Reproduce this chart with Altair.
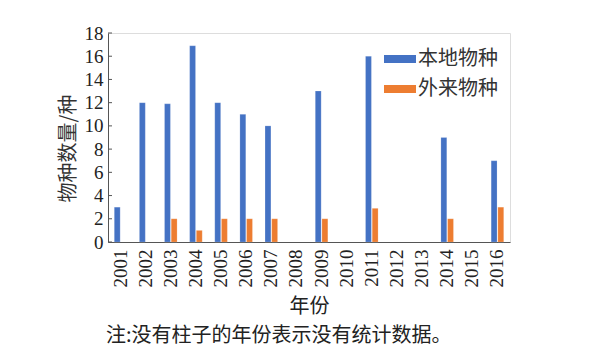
import altair as alt
import pandas as pd

years = [str(y) for y in range(2001, 2017)]
native = [3, 12, 11.9, 16.9, 12, 11, 10, None, 13, None, 16, None, None, 9, None, 7]
alien = [None, None, 2, 1, 2, 2, 2, None, 2, None, 2.9, None, None, 2, None, 3]
series = ["本地物种", "外来物种"]
colors = ["#4472c4", "#ed7d31"]
yticks = list(range(0, 19, 2))

rows = []
for y, n, a in zip(years, native, alien):
    if n is not None:
        rows.append({"年份": y, "类别": series[0], "值": n})
    if a is not None:
        rows.append({"年份": y, "类别": series[1], "值": a})
df = pd.DataFrame(rows)
tick_df = pd.DataFrame({"值": yticks})

cjk = "Noto Sans CJK SC"
num = "Liberation Serif"

x_enc = alt.X("年份:N", sort=years,
              scale=alt.Scale(domain=years, paddingInner=0.5, paddingOuter=0.25),
              axis=alt.Axis(title="年份", labelAngle=270, labelFont=num, labelFontSize=19,
                            labelColor="#222", labelPadding=7, ticks=False, labelOverlap=False,
                            domainColor="#555", titleFont=cjk, titleFontSize=20,
                            titleFontWeight="normal", titleColor="#222", titlePadding=9))
y_scale = alt.Scale(domain=[0, 18], nice=False)
y_axis = alt.Axis(title="物种数量/种", values=yticks, grid=False, ticks=False,
                  labelOverlap=False, labelFlush=False,
                  labelFont=num, labelFontSize=19, labelColor="#222", labelPadding=5,
                  domainColor="#555", titleFont=cjk, titleFontSize=20,
                  titleFontWeight="normal", titleColor="#333", titlePadding=6, titleY=115)

bars = alt.Chart(df).mark_bar(stroke="#ffffff", strokeWidth=0.3, strokeOpacity=0.6).encode(
    x=x_enc,
    xOffset=alt.XOffset("类别:N", sort=series, scale=alt.Scale(paddingInner=0.12)),
    y=alt.Y("值:Q", scale=y_scale, axis=y_axis),
    color=alt.Color("类别:N", sort=series,
                    scale=alt.Scale(domain=series, range=colors),
                    legend=alt.Legend(title=None, orient="none", legendX=281, legendY=15,
                                      symbolType="M-1.5,-0.375H1.5V0.375H-1.5Z",
                                      symbolSize=455, symbolStrokeWidth=0,
                                      labelFont=cjk, labelFontSize=20, labelColor="#333",
                                      labelOffset=7, rowPadding=9, padding=0)),
)

ticks = alt.Chart(tick_df).mark_rule(color="#555", strokeWidth=1).encode(
    y=alt.Y("值:Q", scale=y_scale, axis=y_axis),
    x=alt.value(0), x2=alt.value(4),
)

chart = alt.layer(bars, ticks).properties(
    width=402, height=209,
    autosize=alt.AutoSizeParams(type="none"),
    padding={"left": 108, "top": 33, "right": 90, "bottom": 110},
    title=alt.TitleParams("注:没有柱子的年份表示没有统计数据。", orient="bottom", anchor="start",
                          font=cjk, fontSize=20, fontWeight="normal", color="#222",
                          offset=10, dx=48),
).configure_view(stroke="#555", strokeWidth=1).configure(background="white")

chart.save("out.html", embed_options={"renderer": "svg", "actions": False})
